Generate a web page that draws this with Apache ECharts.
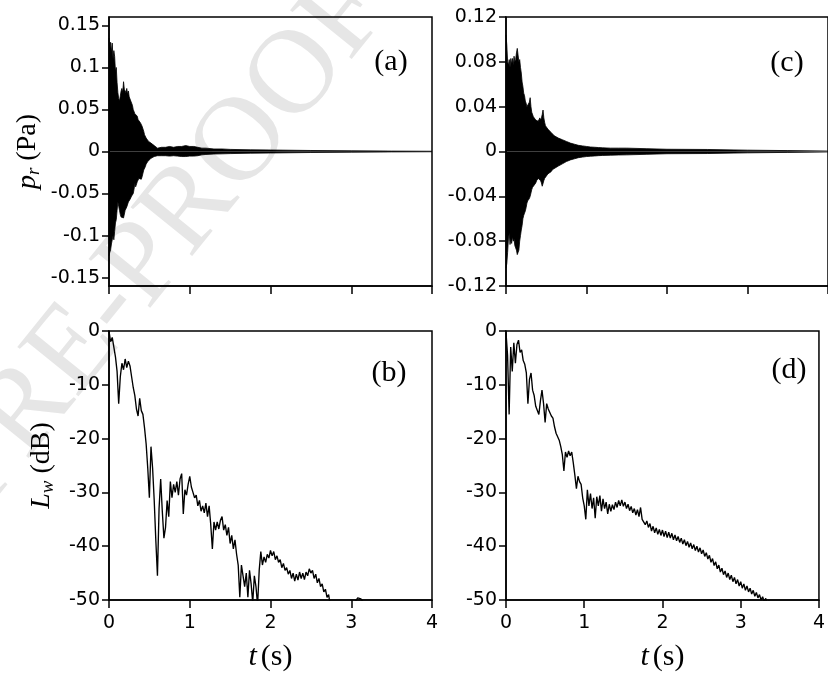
<!DOCTYPE html>
<html><head><meta charset="utf-8">
<script src="https://cdn.jsdelivr.net/npm/echarts@6/dist/echarts.min.js"></script>
<style>html,body{margin:0;padding:0;background:#fff}#c{width:828px;height:673px}</style>
</head><body><div id="c"></div>
<script>
// ---- time grid for the pressure envelopes (s)
const tTop = [0,0.01,0.02,0.03,0.04,0.05,0.06,0.07,0.08,0.09,0.10,0.11,0.12,0.13,0.14,0.15,0.16,0.17,0.18,0.19,
0.20,0.21,0.22,0.23,0.24,0.25,0.26,0.27,0.28,0.29,0.30,0.31,0.32,0.33,0.34,0.35,0.36,0.37,0.38,0.39,
0.40,0.41,0.42,0.43,0.44,0.45,0.46,0.47,0.48,0.49,0.50,0.52,0.54,0.56,0.58,0.60,
0.65,0.70,0.75,0.80,0.85,0.90,0.95,1.00,1.05,1.10,1.15,1.20,1.30,1.40,1.50,1.75,2.00,2.50,3.00,3.50,4.00];
// (a) upper / lower envelope of p_r (Pa)
const upA = [0.135,0.12,0.13,0.118,0.129,0.11,0.12,0.113,0.095,0.1,
0.082,0.07,0.063,0.06,0.066,0.072,0.075,0.07,0.083,0.074,
0.072,0.07,0.075,0.068,0.072,0.065,0.066,0.06,0.062,0.055,
0.05,0.052,0.045,0.046,0.043,0.042,0.038,0.04,0.036,0.034,
0.036,0.03,0.028,0.024,0.02,0.018,0.016,0.015,0.014,0.012,
0.011,0.01,0.009,0.007,0.005,0.004,
0.005,0.005,0.006,0.005,0.006,0.006,0.007,0.006,0.006,0.005,0.004,0.004,
0.003,0.003,0.0025,0.002,0.0018,0.0012,0.0008,0.0005,0.0003];
const loA = [-0.124,-0.12,-0.117,-0.11,-0.108,-0.1,-0.105,-0.095,-0.085,-0.081,
-0.07,-0.06,-0.065,-0.07,-0.075,-0.078,-0.08,-0.076,-0.079,-0.077,
-0.07,-0.068,-0.066,-0.065,-0.06,-0.058,-0.057,-0.055,-0.053,-0.052,
-0.05,-0.045,-0.038,-0.042,-0.04,-0.036,-0.034,-0.032,-0.03,-0.033,
-0.033,-0.03,-0.028,-0.022,-0.02,-0.018,-0.015,-0.013,-0.012,-0.011,
-0.01,-0.008,-0.007,-0.006,-0.005,-0.005,
-0.005,-0.005,-0.0055,-0.005,-0.0055,-0.006,-0.006,-0.0055,-0.0055,-0.005,-0.004,-0.0035,
-0.003,-0.0028,-0.0025,-0.002,-0.0018,-0.0012,-0.0008,-0.0005,-0.0003];
// (c) upper / lower envelope of p_r (Pa)
const upC = [0.104,0.095,0.08,0.077,0.082,0.075,0.083,0.078,0.083,0.077,
0.085,0.08,0.082,0.088,0.092,0.086,0.08,0.082,0.075,0.07,
0.062,0.058,0.052,0.05,0.045,0.043,0.04,0.039,0.041,0.044,
0.048,0.04,0.035,0.034,0.031,0.03,0.03,0.028,0.029,0.027,
0.027,0.028,0.03,0.028,0.03,0.033,0.037,0.03,0.026,0.023,
0.022,0.02,0.019,0.017,0.016,0.014,
0.012,0.0105,0.009,0.0075,0.0065,0.0055,0.005,0.0045,0.004,0.0038,0.0035,0.0033,
0.003,0.003,0.003,0.0025,0.002,0.0018,0.0012,0.0008,0.0004];
const loC = [-0.104,-0.1,-0.09,-0.078,-0.073,-0.083,-0.078,-0.082,-0.076,-0.08,
-0.078,-0.084,-0.086,-0.088,-0.092,-0.09,-0.088,-0.08,-0.075,-0.07,
-0.066,-0.06,-0.057,-0.055,-0.053,-0.05,-0.046,-0.044,-0.043,-0.042,
-0.04,-0.037,-0.034,-0.032,-0.031,-0.03,-0.029,-0.028,-0.026,-0.025,
-0.024,-0.024,-0.025,-0.026,-0.028,-0.031,-0.03,-0.026,-0.024,-0.023,
-0.022,-0.02,-0.019,-0.018,-0.016,-0.015,
-0.013,-0.011,-0.009,-0.0075,-0.0065,-0.0055,-0.005,-0.0045,-0.0042,-0.004,-0.0037,-0.0035,
-0.0033,-0.0031,-0.003,-0.0025,-0.002,-0.0018,-0.0012,-0.0008,-0.0004];

// (b) L_w (dB)
const tB = [0,0.02,0.04,0.06,0.08,0.10,0.12,0.14,0.16,0.18,0.20,0.22,0.24,0.26,0.28,0.30,0.32,0.34,0.36,0.38,
0.40,0.42,0.44,0.46,0.48,0.50,0.52,0.54,0.56,0.58,0.60,0.62,0.64,0.66,0.68,0.70,0.72,0.74,0.76,0.78,
0.80,0.82,0.84,0.86,0.88,0.90,0.92,0.94,0.96,0.98,1.00,1.02,1.04,1.06,1.08,1.10,1.12,1.14,1.16,1.18,
1.20,1.22,1.24,1.26,1.28,1.30,1.32,1.34,1.36,1.38,1.40,1.42,1.44,1.46,1.48,1.50,1.52,1.54,1.56,1.58,
1.60,1.62,1.64,1.66,1.68,1.70,1.72,1.74,1.76,1.78,1.80,1.82,1.84,1.86,1.88,1.90,1.92,1.94,1.96,1.98,
2.00,2.02,2.04,2.06,2.08,2.10,2.12,2.14,2.16,2.18,2.20,2.22,2.24,2.26,2.28,2.30,2.32,2.34,2.36,2.38,
2.40,2.42,2.44,2.46,2.48,2.50,2.52,2.54,2.56,2.58,2.60,2.62,2.64,2.66,2.68,2.70,2.72,2.74,2.76,2.78,
2.80,2.85,2.90,2.95,3.00,3.05,3.08,3.12,3.15,3.20,3.30];
const lwB = [0,-2.0,-1.2,-3.0,-4.8,-7.5,-13.5,-8.5,-6.0,-7.2,
-5.2,-6.8,-5.6,-6.5,-8.5,-10.5,-12.0,-14.5,-15.8,-12.5,
-14.8,-15.5,-18.0,-21.0,-25.5,-31.0,-21.5,-25.5,-31.5,-39.0,
-45.5,-33.0,-27.5,-33.5,-38.5,-36.5,-31.5,-34.5,-28.0,-31.0,
-28.5,-30.0,-28.0,-30.5,-27.5,-26.5,-34.0,-29.5,-30.5,-28.5,
-27.0,-29.0,-30.0,-31.0,-30.5,-32.5,-31.5,-33.5,-32.5,-33.8,
-32.0,-34.5,-32.5,-36.0,-40.5,-35.5,-37.0,-35.5,-36.8,-35.2,
-34.5,-37.0,-36.0,-38.0,-36.5,-39.5,-38.0,-40.5,-38.8,-41.5,
-43.5,-49.5,-43.5,-45.5,-47.5,-45.0,-49.5,-44.5,-47.0,-50.5,
-45.5,-47.5,-51.0,-44.5,-41.0,-43.5,-42.0,-43.0,-41.5,-42.2,
-40.8,-41.8,-41.0,-42.5,-41.8,-43.0,-42.5,-44.0,-43.2,-44.5,
-44.0,-45.2,-44.5,-46.0,-45.0,-46.5,-45.2,-46.3,-44.8,-46.0,
-45.0,-46.2,-44.8,-45.5,-44.2,-45.0,-44.5,-46.0,-45.2,-46.8,
-46.0,-47.5,-47.0,-48.5,-48.0,-49.5,-49.0,-51.0,-52.0,-53.0,
-54.0,-54.0,-55.0,-54.0,-52.0,-50.3,-49.6,-49.8,-50.4,-53.0,-56.0];

// (d) L_w (dB)
const tD = [0,0.02,0.04,0.06,0.08,0.10,0.12,0.14,0.16,0.18,0.20,0.22,0.24,0.26,0.28,0.30,0.32,0.34,0.36,0.38,
0.40,0.42,0.44,0.46,0.48,0.50,0.52,0.54,0.56,0.58,0.60,0.62,0.64,0.66,0.68,0.70,0.72,0.74,0.76,0.78,
0.80,0.82,0.84,0.86,0.88,0.90,0.92,0.94,0.96,0.98,1.00,1.02,1.04,1.06,1.08,1.10,1.12,1.14,1.16,1.18,
1.20,1.22,1.24,1.26,1.28,1.30,1.32,1.34,1.36,1.38,1.40,1.42,1.44,1.46,1.48,1.50,1.52,1.54,1.56,1.58,
1.60,1.62,1.64,1.66,1.68,1.70,1.72,1.74,1.76,1.78,1.80,1.82,1.84,1.86,1.88,1.90,1.92,1.94,1.96,1.98,
2.00,2.02,2.04,2.06,2.08,2.10,2.12,2.14,2.16,2.18,2.20,2.22,2.24,2.26,2.28,2.30,2.32,2.34,2.36,2.38,
2.40,2.42,2.44,2.46,2.48,2.50,2.52,2.54,2.56,2.58,2.60,2.62,2.64,2.66,2.68,2.70,2.72,2.74,2.76,2.78,
2.80,2.82,2.84,2.86,2.88,2.90,2.92,2.94,2.96,2.98,3.00,3.02,3.04,3.06,3.08,3.10,3.12,3.14,3.16,3.18,
3.20,3.22,3.24,3.26,3.28,3.30,3.32,3.34,3.36,3.38,3.40];
const lwD = [-0.3,-4.5,-15.5,-3.0,-7.5,-2.2,-6.0,-2.5,-1.7,-4.0,
-3.5,-5.5,-6.2,-7.8,-13.5,-9.0,-7.8,-11.0,-12.0,-14.0,
-13.8,-15.5,-13.0,-11.0,-13.5,-17.0,-13.5,-14.5,-14.8,-15.8,
-16.2,-17.8,-19.0,-19.3,-20.3,-21.5,-23.0,-26.0,-22.5,-23.5,
-22.3,-23.2,-22.5,-24.5,-26.8,-29.3,-27.0,-28.0,-28.5,-31.0,
-32.5,-35.0,-29.5,-32.5,-30.2,-33.0,-31.0,-34.8,-30.8,-32.5,
-30.6,-33.5,-31.2,-33.0,-31.8,-34.0,-32.2,-33.5,-32.3,-33.2,
-31.8,-32.8,-31.5,-32.5,-31.4,-32.6,-31.8,-33.0,-32.2,-33.4,
-32.6,-33.8,-33.0,-34.2,-33.2,-34.5,-32.8,-35.0,-34.8,-36.0,
-35.3,-36.5,-35.8,-37.2,-36.3,-37.5,-36.6,-37.8,-36.9,-38.0,
-37.0,-38.2,-37.2,-38.4,-37.4,-38.5,-37.6,-38.8,-37.9,-39.0,
-38.2,-39.3,-38.5,-39.6,-38.8,-39.9,-39.1,-40.2,-39.4,-40.5,
-39.7,-40.8,-40.0,-41.1,-40.3,-41.4,-40.7,-41.9,-41.2,-42.4,
-41.7,-43.0,-42.3,-43.6,-42.9,-44.2,-43.5,-44.8,-44.1,-45.3,
-44.6,-45.8,-45.0,-46.2,-45.4,-46.6,-45.8,-47.0,-46.2,-47.4,
-46.6,-47.8,-47.0,-48.2,-47.4,-48.5,-47.8,-48.9,-48.2,-49.3,
-48.6,-49.6,-49.0,-50.0,-49.4,-50.3,-49.7,-50.6,-50.1,-51.0,-51.5];

// ---- tick labels
const xTicks = [0,1,2,3,4];
const yTicksA = [-0.15,-0.1,-0.05,0,0.05,0.1,0.15];
const yTicksC = [-0.12,-0.08,-0.04,0,0.04,0.08,0.12];
const yTicksL = [-50,-40,-30,-20,-10,0];
const panelLabels = ['(a)','(b)','(c)','(d)'];

const SANS = 'DejaVu Sans';
const SERIF = 'Liberation Serif';
const zip = (t, v) => t.map((x, i) => [x, v[i]]);

const chart = echarts.init(document.getElementById('c'));
const grids = [
  {left:109, top:17, width:323, height:269},
  {left:109, top:331, width:323, height:269},
  {left:506, top:17, width:322, height:269},
  {left:506, top:331, width:322, height:269}
].map(g => Object.assign(g, {show:true, borderColor:'#000', borderWidth:1.5, backgroundColor:'rgba(0,0,0,0)'}));

const lineSt = {color:'#000', width:1.5};
function xAx(gi, bottomRow){
  return {type:'value', gridIndex:gi, min:0, max:4, interval:1,
    axisLine:{show:true, onZero:false, lineStyle:lineSt},
    axisTick:{show:true, inside:false, length:8, lineStyle:lineSt, customValues:xTicks},
    axisLabel:{show:bottomRow, color:'#000', fontFamily:SANS, fontSize:19, margin:14, customValues:xTicks},
    splitLine:{show:false},
    name: bottomRow ? '{i|t}{n|(s)}' : '', nameLocation:'middle', nameGap:42,
    nameTextStyle:{rich:{
      i:{fontFamily:SERIF, fontStyle:'italic', fontSize:30, color:'#000', padding:[0,4,0,0]},
      n:{fontFamily:SERIF, fontSize:30, color:'#000'}}}
  };
}
function yAx(gi, min, max, ticks, name, gap){
  return {type:'value', gridIndex:gi, min:min, max:max,
    axisLine:{show:true, onZero:false, lineStyle:lineSt},
    axisTick:{show:true, inside:false, length:7, lineStyle:lineSt, customValues:ticks},
    axisLabel:{color:'#000', fontFamily:SANS, fontSize:19, margin:9, customValues:ticks},
    splitLine:{show:false},
    name:name, nameLocation:'middle', nameRotate:90, nameGap:gap,
    nameTextStyle:{rich:{
      i:{fontFamily:SERIF, fontStyle:'italic', fontSize:28, color:'#000'},
      s:{fontFamily:SERIF, fontStyle:'italic', fontSize:19, color:'#000', padding:[12,0,0,0]},
      n:{fontFamily:SERIF, fontSize:28, color:'#000'}}}
  };
}
function env(gi, t, v){
  return {type:'line', xAxisIndex:gi, yAxisIndex:gi, data:zip(t, v), symbol:'none', showSymbol:false,
    lineStyle:{color:'#000', width:0.8}, areaStyle:{color:'#000', opacity:1, origin:0},
    clip:true, silent:true};
}
function curve(gi, t, v){
  return {type:'line', xAxisIndex:gi, yAxisIndex:gi, data:zip(t, v), symbol:'none', showSymbol:false,
    lineStyle:{color:'#000', width:1.35}, clip:true, silent:true};
}

const labelPos = [[391,62],[389,373],[787,63],[789,370]];
const option = {
  animation:false,
  backgroundColor:'#fff',
  grid:grids,
  xAxis:[xAx(0,false), xAx(1,true), xAx(2,false), xAx(3,true)],
  yAxis:[
    yAx(0,-0.16,0.16,yTicksA,'{i|p}{s|r}{n| (Pa)}',66),
    yAx(1,-50,0,yTicksL,'{i|L}{s|w}{n| (dB)}',52),
    yAx(2,-0.12,0.12,yTicksC,'',50),
    yAx(3,-50,0,yTicksL,'',50)
  ],
  series:[
    env(0,tTop,upA), env(0,tTop,loA),
    curve(1,tB,lwB),
    env(2,tTop,upC), env(2,tTop,loC),
    curve(3,tD,lwD)
  ],
  graphic:[
    {type:'text', z:-10, x:163, y:242, rotation:51*Math.PI/180,
      style:{text:'PRE-PROOF', font:'120px "Liberation Serif"', fill:'#e6e6e6', align:'center', verticalAlign:'middle'}}
  ].concat(panelLabels.map((s,i)=>({type:'text', x:labelPos[i][0], y:labelPos[i][1],
      style:{text:s, font:'30px "Liberation Serif"', fill:'#000', align:'center', verticalAlign:'middle'}})))
};
chart.setOption(option);
</script></body></html>
